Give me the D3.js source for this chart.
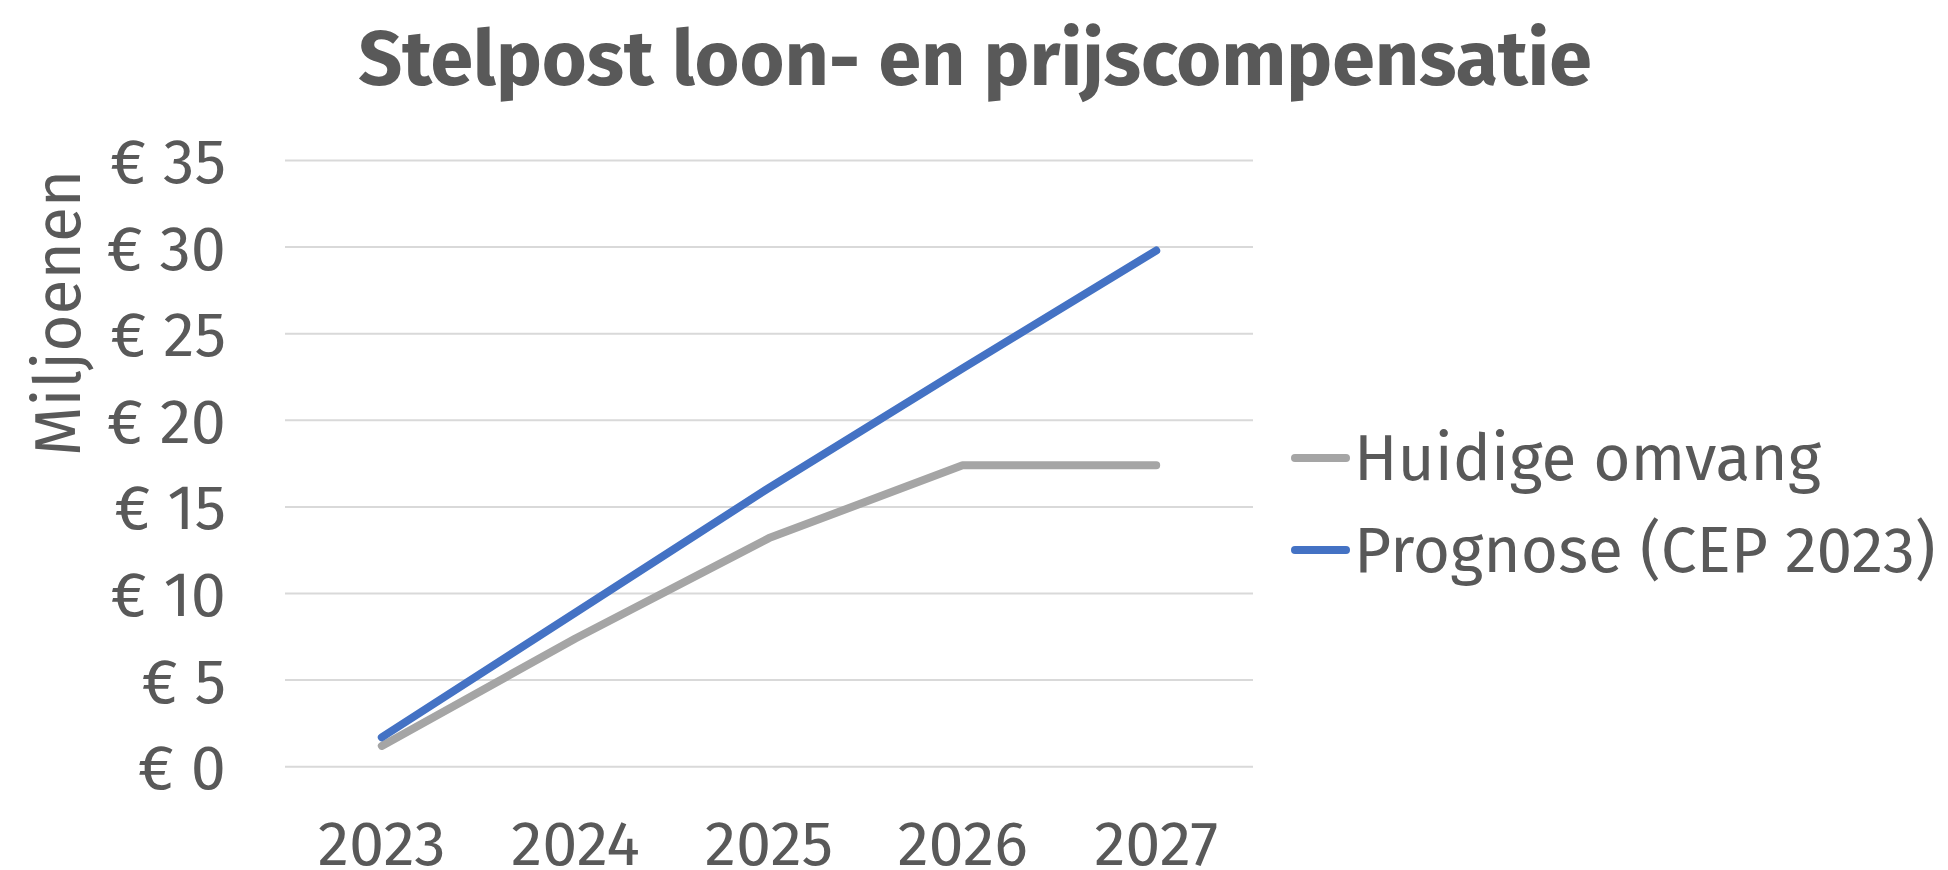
<!DOCTYPE html>
<html>
<head>
<meta charset="utf-8">
<script src="https://cdn.jsdelivr.net/npm/d3@7"></script>
<style>
  html, body { margin: 0; padding: 0; background: #fff; }
  svg { display: block; }
</style>
</head>
<body>
<svg id="chart" width="1948" height="870"></svg>
<script>
// ---- data ----
const categories = ["2023", "2024", "2025", "2026", "2027"];
const huidigeOmvang = [1.2, 7.4, 13.2, 17.4, 17.4];
const prognose = [1.7, 8.9, 16.1, 23.0, 29.8];
const yTicks = [0, 5, 10, 15, 20, 25, 30, 35];
const seriesNames = ["Huidige omvang", "Prognose (CEP 2023)"];
const chartTitle = "Stelpost loon- en prijscompensatie";
const yAxisTitle = "Miljoenen";

// ---- layout ----
const W = 1948, H = 870;
const plot = { left: 285, right: 1253, top: 160.5, bottom: 766.7 };
const textColor = "#595959";
const gridColor = "#d9d9d9";
const colors = ["#a5a5a5", "#4472c4"];
const regFont = "'Fira Sans', 'Open Sans', 'Noto Sans', sans-serif";
const titleFont = "'Fira Sans', 'Liberation Sans Narrow', 'DejaVu Sans Condensed', sans-serif";
const labelSize = 63;

const svg = d3.select("#chart");

const x = d3.scaleBand().domain(categories).range([plot.left, plot.right]).padding(0);
const y = d3.scaleLinear().domain([0, 35]).range([plot.bottom, plot.top]);

// gridlines
svg.append("g")
  .selectAll("line")
  .data(yTicks)
  .join("line")
  .attr("x1", plot.left).attr("x2", plot.right)
  .attr("y1", d => y(d)).attr("y2", d => y(d))
  .attr("stroke", gridColor).attr("stroke-width", 2);

// y axis labels
const yAxis = d3.axisLeft(y).tickValues(yTicks).tickSize(0).tickPadding(0)
  .tickFormat(d => "€ " + d);
const gy = svg.append("g").attr("transform", `translate(226,0)`).call(yAxis);
gy.select(".domain").remove();
gy.selectAll("text")
  .attr("fill", textColor)
  .attr("font-family", regFont)
  .attr("font-size", labelSize)
  .attr("dy", "0.35em");

// x axis labels
const xAxis = d3.axisBottom(x).tickSize(0).tickPadding(0);
const gx = svg.append("g").attr("transform", `translate(0,${865})`).call(xAxis);
gx.select(".domain").remove();
gx.selectAll("text")
  .attr("fill", textColor)
  .attr("font-family", regFont)
  .attr("font-size", labelSize)
  .attr("dy", 0)
  .attr("y", 0);

// lines
const line = d3.line()
  .x((d, i) => x(categories[i]) + x.bandwidth() / 2)
  .y(d => y(d));

[huidigeOmvang, prognose].forEach((vals, k) => {
  svg.append("path")
    .datum(vals)
    .attr("d", line)
    .attr("fill", "none")
    .attr("stroke", colors[k])
    .attr("stroke-width", 8)
    .attr("stroke-linejoin", "round")
    .attr("stroke-linecap", "round");
});

// title
svg.append("text")
  .attr("x", 975).attr("y", 85)
  .attr("text-anchor", "middle")
  .attr("fill", textColor)
  .attr("font-family", titleFont)
  .attr("font-weight", "bold")
  .attr("font-size", 77)
  .text(chartTitle);

// y axis title
svg.append("text")
  .attr("transform", "translate(80,313) rotate(-90)")
  .attr("text-anchor", "middle")
  .attr("fill", textColor)
  .attr("font-family", regFont)
  .attr("font-size", 64)
  .text(yAxisTitle);

// legend
const legendY = [458, 550];
const lg = svg.append("g");
seriesNames.forEach((name, k) => {
  lg.append("line")
    .attr("x1", 1295).attr("x2", 1346)
    .attr("y1", legendY[k]).attr("y2", legendY[k])
    .attr("stroke", colors[k]).attr("stroke-width", 8)
    .attr("stroke-linecap", "round");
  lg.append("text")
    .attr("x", 1354).attr("y", legendY[k])
    .attr("dy", "0.35em")
    .attr("fill", textColor)
    .attr("font-family", regFont)
    .attr("font-size", 64)
    .text(name);
});
</script>
</body>
</html>
